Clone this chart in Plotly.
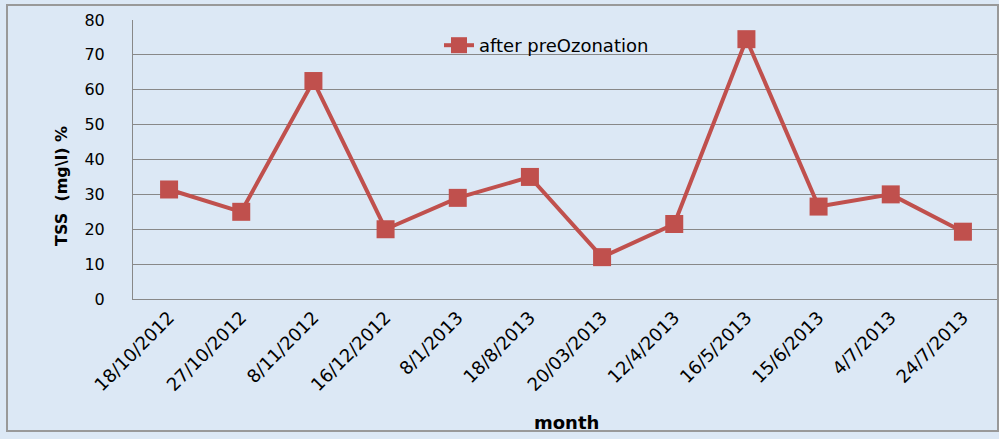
import plotly.graph_objects as go

dates = ["18/10/2012", "27/10/2012", "8/11/2012", "16/12/2012", "8/1/2013", "18/8/2013",
         "20/03/2013", "12/4/2013", "16/5/2013", "15/6/2013", "4/7/2013", "24/7/2013"]
tss_after_preozonation = [31.4, 25, 62.5, 20, 29, 35, 12, 21.5, 74.5, 26.5, 30, 19.3]
y_ticks = [0, 10, 20, 30, 40, 50, 60, 70, 80]

red = "#c0504d"
bg = "#dce8f5"

L, T, B = 133, 20, 140
W, H = 999, 439
plot_w = W - L
plot_h = H - T - B


def px_x(x):
    return (x - L) / plot_w


def px_y(y):
    return (H - B - y) / plot_h


fig = go.Figure()
fig.add_trace(go.Scatter(
    x=dates, y=tss_after_preozonation, mode="lines+markers",
    name="after preOzonation",
    line=dict(color=red, width=4),
    marker=dict(symbol="square", size=18, color=red),
))

fig.update_layout(
    width=W, height=H,
    margin=dict(l=L, r=0, t=T, b=B),
    paper_bgcolor=bg, plot_bgcolor=bg,
    font=dict(family="DejaVu Sans", color="black"),
    showlegend=True,
    legend=dict(x=px_x(439), y=px_y(27), xanchor="left", yanchor="top",
                bgcolor="rgba(0,0,0,0)", font=dict(size=18, family="DejaVu Sans")),
    xaxis=dict(
        type="category", tickangle=-45, showgrid=False,
        showline=True, linecolor="#888888", linewidth=1,
        tickfont=dict(size=18, family="DejaVu Sans"),
        ticks="", range=[-0.5, 11.5],
    ),
    yaxis=dict(
        range=[0, 80], tickvals=y_ticks, showgrid=True, gridcolor="#888888", gridwidth=1,
        showline=True, linecolor="#888888", linewidth=1, zeroline=False,
        tickfont=dict(size=16, family="DejaVu Sans"), ticks="", ticklabelstandoff=24,
    ),
    annotations=[
        dict(text="<b>TSS  (mg\\l) %</b>", x=px_x(61), y=px_y(186), xref="paper", yref="paper",
             xanchor="center", yanchor="middle",
             showarrow=False, textangle=-90, font=dict(size=16, family="DejaVu Sans")),
        dict(text="<b>month</b>", x=px_x(566), y=px_y(422), xref="paper", yref="paper",
             xanchor="center", yanchor="middle",
             showarrow=False, font=dict(size=18, family="DejaVu Sans")),
    ],
    shapes=[
        dict(type="rect", xref="paper", yref="paper",
             x0=px_x(7), x1=px_x(998), y0=px_y(431), y1=px_y(5),
             line=dict(color="#999999", width=2), fillcolor="rgba(0,0,0,0)"),
    ],
)

fig.write_html("out.html")
